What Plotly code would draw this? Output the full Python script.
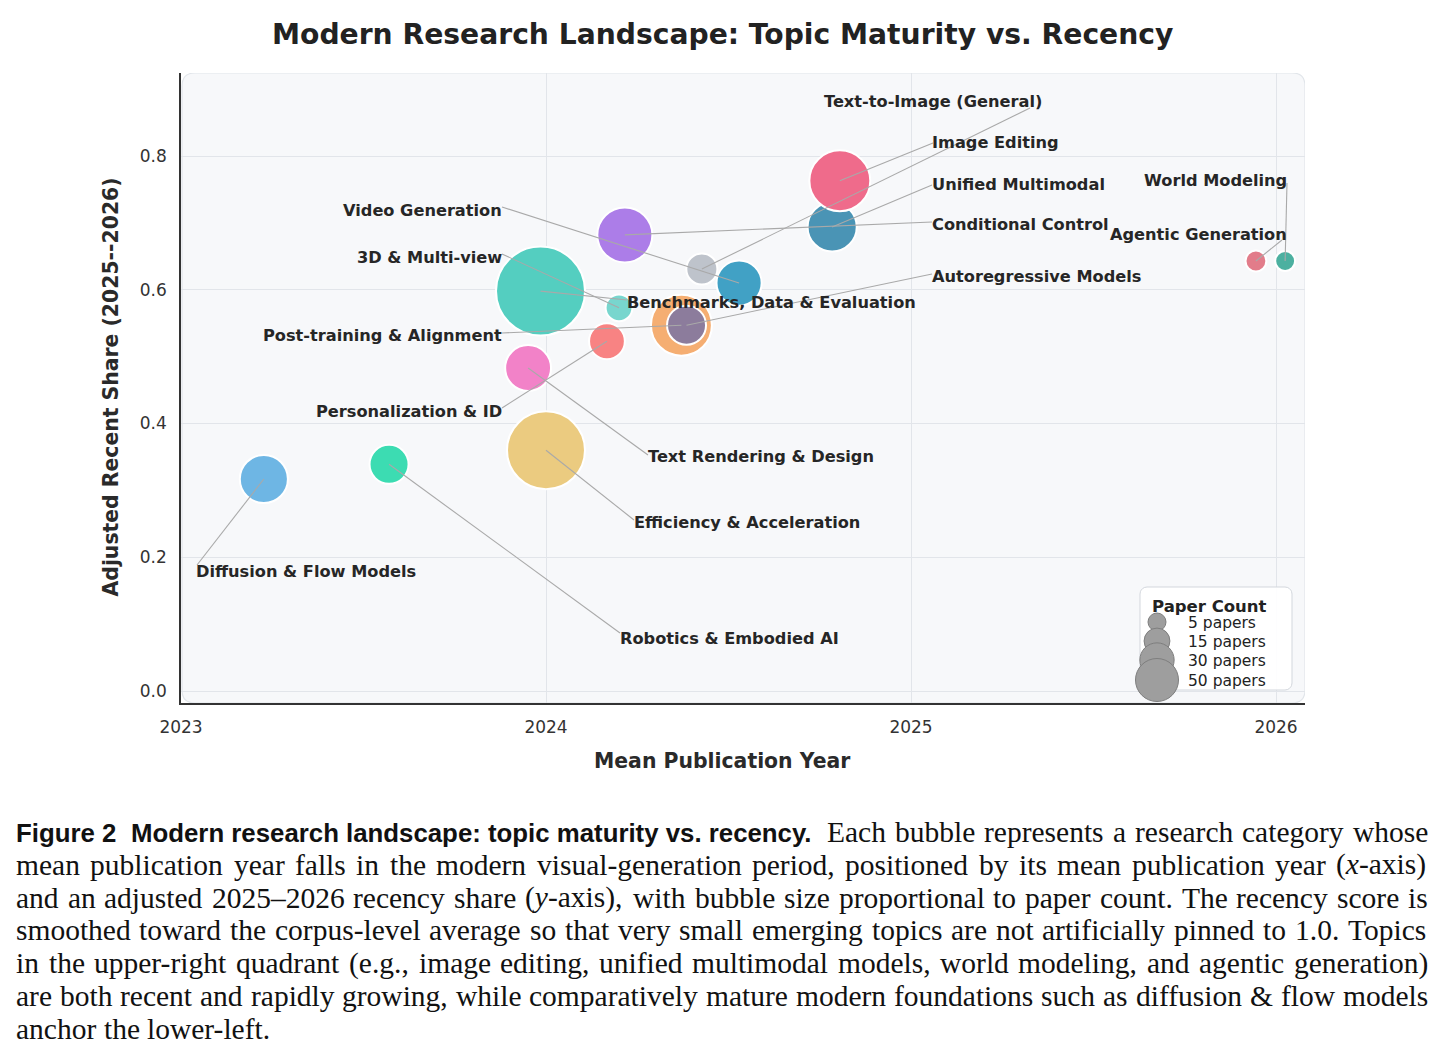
import math
import plotly.graph_objects as go

# ---------------- data ----------------
categories = ["Benchmarks, Data & Evaluation", "Efficiency & Acceleration", "Post-training & Alignment",
              "Unified Multimodal", "Image Editing", "Conditional Control", "Diffusion & Flow Models",
              "Text Rendering & Design", "Video Generation", "Autoregressive Models", "Robotics & Embodied AI",
              "Personalization & ID", "Text-to-Image (General)", "3D & Multi-view", "Agentic Generation",
              "World Modeling"]
mean_year = [2023.985, 2024.000, 2024.371, 2024.784, 2024.805, 2024.216, 2023.227, 2023.951,
             2024.529, 2024.385, 2023.570, 2024.167, 2024.427, 2024.200, 2025.945, 2026.025]
recent_share = [0.598, 0.360, 0.547, 0.694, 0.763, 0.682, 0.317, 0.483,
                0.610, 0.547, 0.339, 0.523, 0.631, 0.573, 0.643, 0.643]
paper_count = [227, 172, 102, 64, 102, 82, 61, 55, 53, 38, 38, 31, 22, 15, 7, 6]
legend_counts = [5, 15, 30, 50]
x_ticks = [2023, 2024, 2025, 2026]
x_tick_text = ["2023", "2024", "2025", "2026"]
y_ticks = [0.0, 0.2, 0.4, 0.6, 0.8]
y_tick_text = ["0.0", "0.2", "0.4", "0.6", "0.8"]

title_text = "Modern Research Landscape: Topic Maturity vs. Recency"
x_title = "Mean Publication Year"
y_title = "Adjusted Recent Share (2025--2026)"
legend_title = "Paper Count"

caption_bold = ["Figure 2", "Modern research landscape: topic maturity vs. recency."]
caption_lines = [
    "Each bubble represents a research category whose",
    "mean publication year falls in the modern visual-generation period, positioned by its mean publication year (<i>x</i>-axis)",
    "and an adjusted 2025\u20132026 recency share (<i>y</i>-axis), with bubble size proportional to paper count. The recency score is",
    "smoothed toward the corpus-level average so that very small emerging topics are not artificially pinned to 1.0. Topics",
    "in the upper-right quadrant (e.g., image editing, unified multimodal models, world modeling, and agentic generation)",
    "are both recent and rapidly growing, while comparatively mature modern foundations such as diffusion & flow models",
    "anchor the lower-left.",
]

# ---------------- style ----------------
cat_colors = {
    "Benchmarks, Data & Evaluation": "#54CEC0",
    "Efficiency & Acceleration": "#EBCB80",
    "Post-training & Alignment": "#F5AE72",
    "Unified Multimodal": "#4A94B5",
    "Image Editing": "#EF6B8B",
    "Conditional Control": "#AC7DE8",
    "Diffusion & Flow Models": "#6EB6E4",
    "Text Rendering & Design": "#F282C8",
    "Video Generation": "#41A1C5",
    "Autoregressive Models": "#8C7C9C",
    "Robotics & Embodied AI": "#3CDCB2",
    "Personalization & ID": "#F88383",
    "Text-to-Image (General)": "#BEC3CB",
    "3D & Multi-view": "#78D6CE",
    "Agentic Generation": "#E27C8A",
    "World Modeling": "#4CB0A0",
}

# label placement in pixel space: text anchor x, text centre y, anchor side, leader end x, leader end y
label_layout = {
    "Text-to-Image (General)": (824, 102, "left", 1030, 108),
    "Image Editing": (932, 142, "left", 933, 143),
    "Unified Multimodal": (932, 184, "left", 932, 185),
    "Conditional Control": (932, 224, "left", 932, 222),
    "Autoregressive Models": (932, 276, "left", 932, 274),
    "Benchmarks, Data & Evaluation": (627, 302, "left", 627, 300),
    "Video Generation": (502, 210, "right", 502, 207),
    "3D & Multi-view": (502, 257, "right", 502, 254),
    "Post-training & Alignment": (502, 335, "right", 502, 333),
    "Personalization & ID": (502, 411, "right", 502, 408),
    "Text Rendering & Design": (648, 456, "left", 648, 455),
    "Efficiency & Acceleration": (634, 522, "left", 634, 520),
    "Robotics & Embodied AI": (620, 638, "left", 620, 633),
    "Diffusion & Flow Models": (196, 571, "left", 197, 565),
    "World Modeling": (1287, 181, "right", 1287, 183),
    "Agentic Generation": (1287, 235, "right", 1282, 240),
}

W, H = 1445, 1061
PL, PR, PT, PB = 181, 1305, 73, 703
XR = [2023.0, 2023.0 + (PR - PL) / 365.0]
YR = [-(PB - 691) / 668.75, (691 - PT) / 668.75]


def px_x(px):
    return XR[0] + (px - PL) / (PR - PL) * (XR[1] - XR[0])


def px_y(py):
    return YR[1] - (py - PT) / (PB - PT) * (YR[1] - YR[0])


def pap_x(px):
    return (px - PL) / (PR - PL)


def pap_y(py):
    return (PB - py) / (PB - PT)


def bubble_diam(n):
    return 2 * math.sqrt(31 + 8.2 * n) + 2


def rounded_rect(x0, y0, x1, y1, r):
    def p(a, b):
        return f"{px_x(a)},{px_y(b)}"
    return (f"M {p(x0 + r, y0)} L {p(x1 - r, y0)} Q {p(x1, y0)} {p(x1, y0 + r)} "
            f"L {p(x1, y1 - r)} Q {p(x1, y1)} {p(x1 - r, y1)} L {p(x0 + r, y1)} "
            f"Q {p(x0, y1)} {p(x0, y1 - r)} L {p(x0, y0 + r)} Q {p(x0, y0)} {p(x0 + r, y0)} Z")


def rounded_poly(x0, y0, x1, y1, r, steps=8):
    xs, ys = [], []
    corners = [(x1 - r, y0 + r, -90, 0), (x1 - r, y1 - r, 0, 90),
               (x0 + r, y1 - r, 90, 180), (x0 + r, y0 + r, 180, 270)]
    for cx, cy, a0, a1 in corners:
        for k in range(steps + 1):
            a = math.radians(a0 + (a1 - a0) * k / steps)
            xs.append(px_x(cx + r * math.cos(a)))
            ys.append(px_y(cy + r * math.sin(a)))
    xs.append(xs[0])
    ys.append(ys[0])
    return xs, ys


LABEL_FONT = dict(family="DejaVu Sans", size=16.2, color="#262626", weight="bold")

fig = go.Figure()

# size-legend box first (filled trace: above gridlines, below every marker)
bx, by = rounded_poly(1140, 587, 1292, 690, 7)
fig.add_trace(go.Scatter(x=bx, y=by, mode="lines", fill="toself",
                         fillcolor="rgba(255,255,255,0.93)", line=dict(color="#D3D7DD", width=1),
                         hoverinfo="skip", showlegend=False))

fig.add_trace(go.Scatter(
    x=mean_year, y=recent_share, mode="markers",
    marker=dict(size=[bubble_diam(n) for n in paper_count],
                color=[cat_colors[c] for c in categories],
                line=dict(color="white", width=2), opacity=1),
    hoverinfo="text", text=categories, showlegend=False,
))

shapes = []
annotations = []

# plot background with rounded corners
shapes.append(dict(type="path", path=rounded_rect(182, 73, 1305, 703, 13), xref="x", yref="y",
                   fillcolor="#F7F8FA", line=dict(color="#E1E5EA", width=1.2), layer="below"))

# leader lines + labels
for cat, xv, yv in zip(categories, mean_year, recent_share):
    tx, ty, side, lx, ly = label_layout[cat]
    shapes.append(dict(type="line", xref="x", yref="y", x0=xv, y0=yv, x1=px_x(lx), y1=px_y(ly),
                       line=dict(color="#A9A9A9", width=1.1), layer="above"))
    annotations.append(dict(text=cat, x=pap_x(tx), y=pap_y(ty), xref="paper", yref="paper",
                            xanchor=side, yanchor="middle", showarrow=False, font=LABEL_FONT,
                            borderpad=0, borderwidth=0))

leg_rows = [622, 641, 660, 680]
fig.add_trace(go.Scatter(
    x=[px_x(1157)] * len(legend_counts), y=[px_y(r) for r in leg_rows], mode="markers",
    marker=dict(size=[bubble_diam(n) - 1 for n in legend_counts], color="#9E9E9E", opacity=1,
                line=dict(color="#7E7E7E", width=1)),
    hoverinfo="skip", showlegend=False,
))
annotations.append(dict(text=legend_title, x=pap_x(1152), y=pap_y(606), xref="paper", yref="paper",
                        xanchor="left", yanchor="middle", showarrow=False, borderpad=0, borderwidth=0,
                        font=dict(family="DejaVu Sans", size=16.5, color="#222222", weight="bold")))
for n, r in zip(legend_counts, leg_rows):
    annotations.append(dict(text=f"{n} papers", x=pap_x(1188), y=pap_y(r + 1), xref="paper", yref="paper",
                            xanchor="left", yanchor="middle", showarrow=False, borderpad=0, borderwidth=0,
                            font=dict(family="DejaVu Sans", size=15.5, color="#222222")))

# titles
annotations.append(dict(text=title_text, x=pap_x(722), y=pap_y(35), xref="paper", yref="paper",
                        xanchor="center", yanchor="middle", showarrow=False,
                        font=dict(family="DejaVu Sans", size=28.2, color="#222222", weight="bold")))
annotations.append(dict(text=x_title, x=pap_x(721.5), y=pap_y(761), xref="paper", yref="paper",
                        xanchor="center", yanchor="middle", showarrow=False,
                        font=dict(family="DejaVu Sans", size=20.4, color="#2A2A2A", weight="bold")))
annotations.append(dict(text=y_title, x=pap_x(110), y=pap_y(387.5), xref="paper", yref="paper",
                        xanchor="center", yanchor="middle", showarrow=False, textangle=-90,
                        font=dict(family="DejaVu Sans", size=20.4, color="#2A2A2A", weight="bold")))

# ---------------- caption (justified, word by word) ----------------
TIMES = {' ': 250, 'a': 444, 'b': 500, 'c': 444, 'd': 500, 'e': 444, 'f': 333, 'g': 500, 'h': 500,
         'i': 278, 'j': 278, 'k': 500, 'l': 278, 'm': 778, 'n': 500, 'o': 500, 'p': 500, 'q': 500,
         'r': 333, 's': 389, 't': 278, 'u': 500, 'v': 500, 'w': 722, 'x': 500, 'y': 500, 'z': 444,
         'E': 611, 'T': 611, 'A': 722, 'F': 556, 'I': 333, '.': 250, ',': 250, '-': 333, '(': 333,
         ')': 333, '&': 778, '\u2013': 500, ':': 278}
for dgt in "0123456789":
    TIMES[dgt] = 500


def word_w(w):
    w = w.replace("<i>", "").replace("</i>", "")
    return sum(TIMES.get(ch, 500) for ch in w)


CAP_FS = 29.5
CAP_FONT = dict(family="Liberation Serif", size=CAP_FS, color="#111111")
CAP_BASE = 832
CAP_STEP = 32.8


def place_line(text, left, right, yc, justify=True):
    words = text.split(" ")
    widths = [word_w(w) * CAP_FS / 1000.0 for w in words]
    total = sum(widths)
    if justify and len(words) > 1:
        gap = (right - left - total) / (len(words) - 1)
    else:
        gap = 250 * CAP_FS / 1000.0
    x = left
    for w, wd in zip(words, widths):
        annotations.append(dict(text=w, x=pap_x(x), y=pap_y(yc), xref="paper", yref="paper",
                                xanchor="left", yanchor="middle", showarrow=False,
                                borderpad=0, borderwidth=0, font=CAP_FONT))
        x += wd + gap


BOLD_FONT = dict(family="Liberation Sans", size=25.8, color="#111111", weight="bold")
annotations.append(dict(text=caption_bold[0], x=pap_x(16), y=pap_y(CAP_BASE + 1), xref="paper", yref="paper",
                        xanchor="left", yanchor="middle", showarrow=False, borderpad=0, borderwidth=0,
                        font=BOLD_FONT))
annotations.append(dict(text=caption_bold[1], x=pap_x(131), y=pap_y(CAP_BASE + 1), xref="paper", yref="paper",
                        xanchor="left", yanchor="middle", showarrow=False, borderpad=0, borderwidth=0,
                        font=BOLD_FONT))
place_line(caption_lines[0], 827, 1428, CAP_BASE)
for i, line in enumerate(caption_lines[1:], start=1):
    last = (i == len(caption_lines) - 1)
    place_line(line, 16, 1428, CAP_BASE + CAP_STEP * i, justify=not last)

fig.update_layout(
    width=W, height=H, autosize=False,
    margin=dict(l=PL, r=W - PR, t=PT, b=H - PB, pad=0),
    paper_bgcolor="white", plot_bgcolor="rgba(0,0,0,0)",
    showlegend=False,
    shapes=shapes, annotations=annotations,
    font=dict(family="DejaVu Sans"),
    xaxis=dict(range=XR, tickvals=x_ticks, ticktext=x_tick_text, showgrid=True, gridcolor="#E2E5EA",
               gridwidth=1, zeroline=False, showline=True, linecolor="#333333", linewidth=1.5,
               ticks="", ticklabelstandoff=8,
               tickfont=dict(family="DejaVu Sans", size=17, color="#333333")),
    yaxis=dict(range=YR, tickvals=y_ticks, ticktext=y_tick_text, showgrid=True, gridcolor="#E2E5EA",
               gridwidth=1, zeroline=False, showline=True, linecolor="#333333", linewidth=1.5,
               ticks="", ticklabelstandoff=9,
               tickfont=dict(family="DejaVu Sans", size=17, color="#333333")),
)

fig.write_html("out.html")
